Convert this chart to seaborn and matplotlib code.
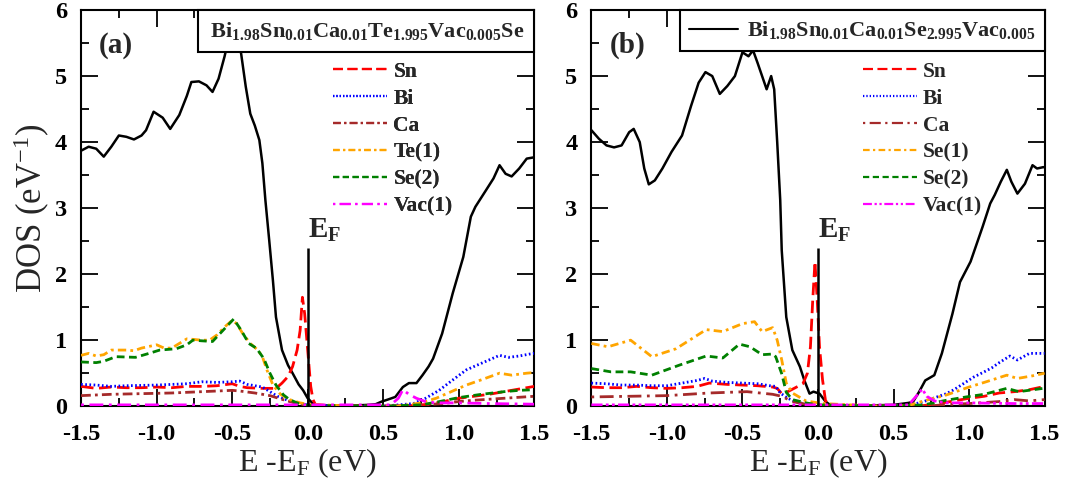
import matplotlib
matplotlib.use("Agg")
import matplotlib.pyplot as plt
import seaborn as sns
from matplotlib.lines import Line2D
from matplotlib.offsetbox import AnchoredText
from matplotlib.ticker import MultipleLocator, FormatStrFormatter

# ---------------- data: panel (a) Bi1.98Sn0.01Ca0.01Te1.995Vac0.005Se ----------------
tot_a_e = [-1.5, -1.45, -1.40, -1.35, -1.30, -1.25, -1.20, -1.15, -1.10, -1.07, -1.02, -0.96,
           -0.91, -0.85, -0.80, -0.77, -0.72, -0.67, -0.63, -0.59, -0.55, -0.52, -0.48, -0.44,
           -0.41, -0.38, -0.35, -0.32, -0.30, -0.28, -0.255, -0.23, -0.21, -0.17, -0.13, -0.10,
           -0.06, -0.03, 0.0, 0.03, 0.06, 0.1, 0.2, 0.3, 0.4, 0.45, 0.49, 0.53, 0.58, 0.63,
           0.67, 0.72, 0.76, 0.80, 0.83, 0.89, 0.96, 1.03, 1.08, 1.11, 1.18, 1.23, 1.27, 1.31,
           1.35, 1.40, 1.45, 1.50]
tot_a = [3.87, 3.93, 3.90, 3.78, 3.93, 4.10, 4.08, 4.04, 4.10, 4.18, 4.46, 4.37,
         4.20, 4.41, 4.70, 4.91, 4.92, 4.86, 4.76, 4.96, 5.30, 5.60, 5.85, 5.33,
         4.84, 4.43, 4.25, 4.03, 3.68, 3.12, 2.52, 1.90, 1.35, 0.85, 0.62, 0.50,
         0.33, 0.24, 0.12, 0.05, 0.02, 0.01, 0.01, 0.01, 0.02, 0.03, 0.07, 0.10, 0.14, 0.29,
         0.35, 0.35, 0.47, 0.60, 0.72, 1.10, 1.71, 2.26, 2.87, 3.02, 3.27, 3.45, 3.65, 3.52,
         3.48, 3.60, 3.75, 3.77]

sn_a_e = [-1.5, -1.4, -1.3, -1.2, -1.1, -1.0, -0.9, -0.8, -0.7, -0.6, -0.5, -0.45, -0.4, -0.3,
          -0.21, -0.17, -0.13, -0.10, -0.07, -0.05, -0.035, -0.02, 0.0, 0.02, 0.035, 0.05, 0.1,
          0.3, 0.5, 0.7, 0.8, 0.9, 1.0, 1.1, 1.2, 1.3, 1.4, 1.5]
sn_a = [0.30, 0.27, 0.29, 0.28, 0.28, 0.29, 0.28, 0.30, 0.30, 0.31, 0.34, 0.30, 0.28, 0.27,
        0.27, 0.35, 0.45, 0.60, 0.85, 1.15, 1.65, 1.40, 0.85, 0.30, 0.10, 0.03, 0.01,
        0.0, 0.0, 0.01, 0.03, 0.07, 0.12, 0.15, 0.18, 0.22, 0.26, 0.30]

bi_a_e = [-1.5, -1.4, -1.3, -1.2, -1.0, -0.8, -0.7, -0.6, -0.5, -0.45, -0.4, -0.3, -0.2, -0.1,
          0.0, 0.2, 0.5, 0.7, 0.78, 0.87, 0.95, 1.05, 1.15, 1.27, 1.33, 1.4, 1.47, 1.5]
bi_a = [0.33, 0.32, 0.30, 0.31, 0.32, 0.34, 0.37, 0.36, 0.37, 0.38, 0.33, 0.29, 0.15, 0.06,
        0.02, 0.0, 0.0, 0.04, 0.12, 0.24, 0.38, 0.55, 0.65, 0.77, 0.74, 0.76, 0.79, 0.80]

ca_a_e = [-1.5, -1.3, -1.1, -0.9, -0.7, -0.5, -0.45, -0.35, -0.25, -0.15, -0.05, 0.0, 0.5,
          0.75, 0.9, 1.0, 1.1, 1.3, 1.5]
ca_a = [0.16, 0.18, 0.19, 0.20, 0.22, 0.24, 0.23, 0.20, 0.16, 0.09, 0.03, 0.01, 0.0,
        0.02, 0.04, 0.07, 0.09, 0.12, 0.15]

te1_a_e = [-1.5, -1.45, -1.4, -1.35, -1.3, -1.2, -1.15, -1.1, -1.0, -0.95, -0.9, -0.85, -0.8,
           -0.7, -0.65, -0.6, -0.55, -0.5, -0.47, -0.43, -0.38, -0.33, -0.3, -0.27, -0.23,
           -0.18, -0.12, -0.05, 0.0, 0.3, 0.6, 0.75, 0.85, 0.95, 1.05, 1.15, 1.27, 1.35,
           1.45, 1.5]
te1_a = [0.77, 0.80, 0.76, 0.78, 0.85, 0.85, 0.84, 0.88, 0.93, 0.88, 0.88, 0.95, 1.02,
         1.00, 1.00, 1.08, 1.20, 1.30, 1.25, 1.10, 0.95, 0.85, 0.75, 0.55, 0.32,
         0.18, 0.10, 0.05, 0.03, 0.0, 0.0, 0.05, 0.12, 0.22, 0.32, 0.40, 0.50, 0.47,
         0.50, 0.51]

se2_a_e = [-1.5, -1.4, -1.35, -1.27, -1.14, -1.05, -0.98, -0.87, -0.8, -0.76, -0.7, -0.63,
           -0.56, -0.49, -0.44, -0.39, -0.34, -0.29, -0.25, -0.21, -0.16, -0.12, -0.05, 0.0,
           0.5, 0.75, 0.85, 1.0, 1.15, 1.3, 1.4, 1.5]
se2_a = [0.67, 0.66, 0.68, 0.75, 0.74, 0.80, 0.85, 0.87, 0.93, 1.00, 0.99, 0.98,
         1.15, 1.32, 1.15, 0.95, 0.88, 0.72, 0.50, 0.32, 0.17, 0.10, 0.03, 0.01,
         0.0, 0.02, 0.06, 0.13, 0.18, 0.22, 0.24, 0.25]

vac_a_e = [-1.5, -1.0, -0.5, 0.0, 0.55, 0.6, 0.63, 0.67, 0.72, 0.78, 0.85, 1.0, 1.2, 1.5]
vac_a = [0.02, 0.02, 0.02, 0.02, 0.02, 0.12, 0.25, 0.18, 0.12, 0.07, 0.05, 0.05, 0.04, 0.03]

# ---------------- data: panel (b) Bi1.98Sn0.01Ca0.01Se2.995Vac0.005 ----------------
tot_b_e = [-1.5, -1.45, -1.4, -1.35, -1.3, -1.25, -1.22, -1.18, -1.15, -1.12, -1.08, -1.03,
           -0.97, -0.9, -0.84, -0.79, -0.745, -0.7, -0.65, -0.6, -0.55, -0.5, -0.46, -0.43,
           -0.4, -0.37, -0.34, -0.31, -0.29, -0.27, -0.25, -0.24, -0.21, -0.17, -0.12, -0.09,
           -0.056, -0.03, 0.01, 0.05, 0.08, 0.15, 0.3, 0.5, 0.6, 0.63, 0.67, 0.71, 0.77, 0.82,
           0.89, 0.94, 1.01, 1.09, 1.14, 1.17, 1.21, 1.25, 1.28, 1.32, 1.37, 1.42, 1.45, 1.49,
           1.5]
tot_b = [4.18, 4.05, 3.95, 3.92, 3.95, 4.15, 4.20, 4.00, 3.60, 3.36, 3.42, 3.60,
         3.85, 4.10, 4.55, 4.90, 5.06, 5.00, 4.73, 4.85, 5.00, 5.36, 5.30, 5.39,
         5.20, 5.00, 4.80, 5.00, 4.80, 4.00, 3.12, 2.36, 1.35, 0.85, 0.60, 0.39,
         0.19, 0.22, 0.19, 0.07, 0.02, 0.01, 0.01, 0.02, 0.05, 0.07, 0.22, 0.39, 0.47, 0.80,
         1.40, 1.88, 2.19, 2.72, 3.07, 3.20, 3.40, 3.58, 3.40, 3.22, 3.37, 3.65, 3.60, 3.62,
         3.62]

sn_b_e = [-1.5, -1.4, -1.3, -1.2, -1.1, -1.0, -0.9, -0.8, -0.72, -0.6, -0.5, -0.4, -0.3,
          -0.27, -0.24, -0.2, -0.15, -0.1, -0.07, -0.05, -0.035, -0.02, -0.005, 0.01, 0.03,
          0.05, 0.08, 0.2, 0.5, 0.7, 0.8, 0.9, 1.0, 1.1, 1.2, 1.3, 1.4, 1.5]
sn_b = [0.29, 0.28, 0.28, 0.30, 0.28, 0.27, 0.28, 0.30, 0.35, 0.33, 0.32, 0.31, 0.29,
        0.27, 0.19, 0.22, 0.28, 0.34, 0.50, 0.90, 1.60, 2.19, 1.60, 0.90, 0.40,
        0.08, 0.02, 0.0, 0.0, 0.01, 0.04, 0.08, 0.12, 0.15, 0.20, 0.22, 0.25, 0.30]

bi_b_e = [-1.5, -1.4, -1.3, -1.2, -1.1, -1.0, -0.9, -0.8, -0.75, -0.7, -0.6, -0.5, -0.4,
          -0.32, -0.28, -0.25, -0.2, -0.15, -0.1, 0.0, 0.3, 0.6, 0.7, 0.85, 0.9, 1.03, 1.1,
          1.15, 1.2, 1.27, 1.32, 1.4, 1.5]
bi_b = [0.35, 0.34, 0.32, 0.32, 0.31, 0.31, 0.35, 0.39, 0.42, 0.38, 0.36, 0.35, 0.34,
        0.31, 0.30, 0.20, 0.12, 0.07, 0.04, 0.01, 0.0, 0.01, 0.07, 0.19, 0.25, 0.44, 0.52,
        0.58, 0.66, 0.76, 0.70, 0.80, 0.80]

ca_b_e = [-1.5, -1.0, -0.72, -0.47, -0.3, -0.24, -0.17, -0.08, 0.0, 0.7, 0.9, 1.0, 1.2,
          1.3, 1.4, 1.5]
ca_b = [0.14, 0.16, 0.20, 0.22, 0.18, 0.15, 0.07, 0.03, 0.01, 0.0, 0.03, 0.04, 0.07,
        0.10, 0.08, 0.10]

se1_b_e = [-1.5, -1.39, -1.24, -1.1, -0.94, -0.74, -0.63, -0.5, -0.42, -0.37, -0.3, -0.27,
           -0.24, -0.21, -0.17, -0.08, 0.03, 0.4, 0.6, 0.7, 0.85, 1.0, 1.1, 1.25, 1.32,
           1.42, 1.5]
se1_b = [0.95, 0.90, 1.00, 0.75, 0.87, 1.16, 1.13, 1.25, 1.28, 1.13, 1.19, 1.00,
         0.70, 0.35, 0.20, 0.08, 0.04, 0.0, 0.01, 0.08, 0.17, 0.29, 0.36, 0.47, 0.42,
         0.46, 0.50]

se2_b_e = [-1.5, -1.37, -1.24, -1.1, -0.92, -0.74, -0.63, -0.52, -0.45, -0.37, -0.3, -0.28,
           -0.24, -0.21, -0.17, -0.08, 0.0, 0.5, 0.7, 0.85, 0.98, 1.1, 1.25, 1.33, 1.49, 1.5]
se2_b = [0.57, 0.52, 0.52, 0.47, 0.62, 0.76, 0.73, 0.94, 0.90, 0.78, 0.79, 0.75,
         0.49, 0.21, 0.10, 0.05, 0.02, 0.0, 0.02, 0.09, 0.14, 0.18, 0.27, 0.22, 0.27, 0.27]

vac_b_e = [-1.5, -1.0, -0.5, 0.0, 0.6, 0.65, 0.69, 0.72, 0.77, 0.85, 1.0, 1.3, 1.5]
vac_b = [0.02, 0.02, 0.02, 0.02, 0.02, 0.15, 0.26, 0.15, 0.08, 0.05, 0.05, 0.04, 0.04]

ef_height = 2.4
energy_limits = (-1.5, 1.5)
dos_limits = (0, 6)

title_a = r"$\mathbf{\,Bi_{1.98}Sn_{0.01}Ca_{0.01}Te_{1.995}Vac_{0.005}Se\,}$"
title_b = r"$\mathbf{Bi_{1.98}Sn_{0.01}Ca_{0.01}Se_{2.995}Vac_{0.005}}$"

# ---------------- styling ----------------
sns.set_theme(style="ticks")
plt.rcParams.update({
    "font.family": ["Liberation Serif", "DejaVu Serif"],
    "mathtext.fontset": "custom",
    "mathtext.rm": "Liberation Serif",
    "mathtext.it": "Liberation Serif:italic",
    "mathtext.bf": "Liberation Serif:bold",
    "axes.unicode_minus": False,
    "axes.linewidth": 1.5,
    "axes.edgecolor": "black",
    "xtick.color": "black",
    "ytick.color": "black",
})

LW = 2.0
styles_a = {
    "Sn": dict(color="red", linestyle=(0, (4.5, 2.0))),
    "Bi": dict(color="blue", linestyle=(0, (0.6, 0.9))),
    "Ca": dict(color="#a52a2a", linestyle=(0, (3.5, 1.5, 1.0, 1.5))),
    "Te(1)": dict(color="orange", linestyle=(0, (3.0, 1.5, 1.0, 1.5))),
    "Se(2)": dict(color="green", linestyle=(0, (2.8, 1.6))),
    "Vac(1)": dict(color="magenta", linestyle=(0, (1.0, 2.0, 5.0, 2.0))),
}
styles_b = {
    "Sn": dict(color="red", linestyle=(0, (4.5, 2.0))),
    "Bi": dict(color="blue", linestyle=(0, (0.6, 0.9))),
    "Ca": dict(color="#a52a2a", linestyle=(0, (1.0, 2.0, 5.0, 2.0))),
    "Se(1)": dict(color="orange", linestyle=(0, (3.0, 1.5, 1.0, 1.5))),
    "Se(2)": dict(color="green", linestyle=(0, (2.8, 1.6))),
    "Vac(1)": dict(color="magenta", linestyle=(0, (4.0, 1.2, 1.0, 1.2, 1.0, 1.2))),
}

panels = [
    dict(tag="(a)", title=title_a, total=(tot_a_e, tot_a), styles=styles_a, leg_x=0.556,
         parts={"Sn": (sn_a_e, sn_a), "Bi": (bi_a_e, bi_a), "Ca": (ca_a_e, ca_a),
                "Te(1)": (te1_a_e, te1_a), "Se(2)": (se2_a_e, se2_a),
                "Vac(1)": (vac_a_e, vac_a)}),
    dict(tag="(b)", title=title_b, total=(tot_b_e, tot_b), styles=styles_b, leg_x=0.599,
         parts={"Sn": (sn_b_e, sn_b), "Bi": (bi_b_e, bi_b), "Ca": (ca_b_e, ca_b),
                "Se(1)": (se1_b_e, se1_b), "Se(2)": (se2_b_e, se2_b),
                "Vac(1)": (vac_b_e, vac_b)}),
]

fig, axes = plt.subplots(1, 2, figsize=(10.67, 4.79), dpi=100)
fig.subplots_adjust(left=0.076, right=0.979, bottom=0.152, top=0.979, wspace=0.126)

for i, (ax, p) in enumerate(zip(axes, panels)):
    # partial DOS curves
    handles = []
    for name, (e, d) in p["parts"].items():
        st = p["styles"][name]
        sns.lineplot(x=e, y=d, ax=ax, estimator=None, sort=False, legend=False,
                     color=st["color"], linestyle=st["linestyle"], linewidth=LW, zorder=3)
        handles.append(Line2D([], [], color=st["color"], linestyle=st["linestyle"],
                              linewidth=1.6, label=name))
    # total DOS
    e, d = p["total"]
    sns.lineplot(x=e, y=d, ax=ax, estimator=None, sort=False, legend=False,
                 color="black", linewidth=1.8, zorder=2)

    # Fermi level marker
    ax.vlines(0.0, 0.0, ef_height, color="black", linewidth=1.8, zorder=4)
    ax.text(0.0, ef_height + 0.05, r"$\mathbf{E_F}$", fontsize=21, ha="left", va="bottom")

    ax.set_xlim(*energy_limits)
    ax.set_ylim(*dos_limits)
    ax.xaxis.set_major_locator(MultipleLocator(0.5))
    ax.xaxis.set_minor_locator(MultipleLocator(0.25))
    ax.yaxis.set_major_locator(MultipleLocator(1))
    ax.yaxis.set_minor_locator(MultipleLocator(0.5))
    ax.xaxis.set_major_formatter(FormatStrFormatter("%.1f"))
    ax.tick_params(which="both", direction="in", top=True, right=True, width=1.3,
                   labelsize=17.5)
    ax.tick_params(axis="x", which="major", pad=13)
    ax.tick_params(axis="y", which="major", pad=10)
    ax.tick_params(which="major", length=12)
    ax.tick_params(which="minor", length=6)
    for lab in ax.get_xticklabels() + ax.get_yticklabels():
        lab.set_fontweight("bold")
    for sp in ax.spines.values():
        sp.set_linewidth(1.5)
        sp.set_visible(True)

    ax.set_xlabel(r"E -E$_{\mathrm{F}}$ (eV)", fontsize=23, labelpad=1)
    if i == 0:
        ax.set_ylabel(r"DOS (eV$^{-1}$)", fontsize=25, labelpad=2)
    else:
        ax.set_ylabel("")

    ax.text(0.04, 0.91, p["tag"], transform=ax.transAxes, fontsize=21,
            fontweight="bold", ha="left", va="center")

    # species legend
    leg = ax.legend(handles=handles, loc="upper left",
                    bbox_to_anchor=(p["leg_x"], 0.869),
                    frameon=False, prop={"weight": "bold", "size": 15.5},
                    handlelength=2.5, handletextpad=0.3, labelspacing=0.32,
                    borderpad=0.0, borderaxespad=0.0)
    ax.add_artist(leg)

    # composition box
    if i == 0:
        box = AnchoredText(p["title"], loc="upper right", frameon=True, borderpad=0.0,
                           pad=0.45, prop=dict(size=16))
        box.patch.set_edgecolor("black")
        box.patch.set_linewidth(1.5)
        box.patch.set_boxstyle("square,pad=0")
        box.set_zorder(6)
        ax.add_artist(box)
    else:
        tot_handle = Line2D([], [], color="black", linewidth=1.5)
        leg2 = ax.legend([tot_handle], [p["title"]], loc="upper right",
                         borderaxespad=0.0, fancybox=False, framealpha=1.0,
                         edgecolor="black", fontsize=16, handlelength=2.2,
                         handletextpad=0.4, borderpad=0.42)
        leg2.get_frame().set_linewidth(1.5)
        leg2.set_zorder(6)

fig.savefig("out.png", dpi=100)
